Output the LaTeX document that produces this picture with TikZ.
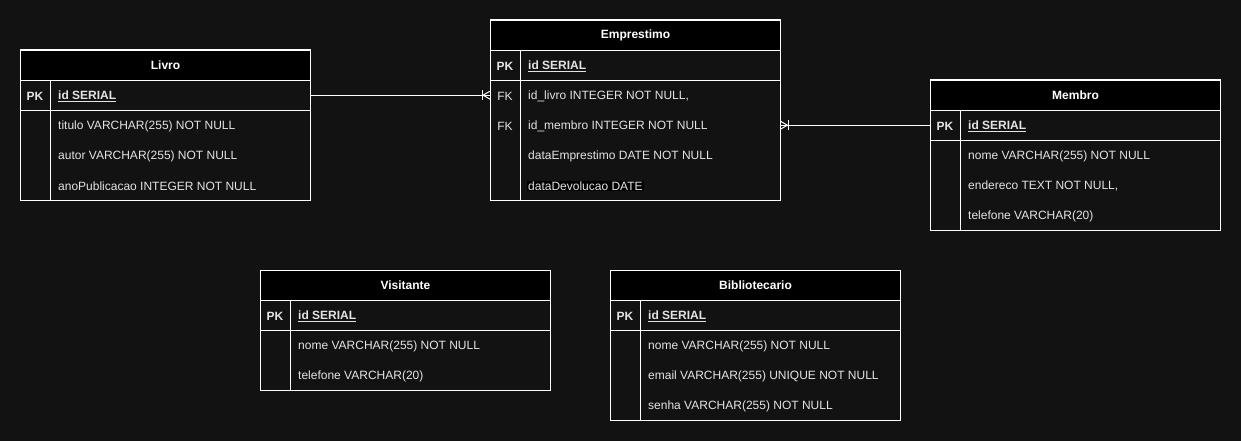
\documentclass[tikz,border=0pt]{standalone}
\usepackage{fontspec}
\setmainfont{Liberation Sans}
\usetikzlibrary{calc}

\definecolor{fundo}{HTML}{121212}
\definecolor{texto}{HTML}{E4E4E4}

% uma tabela: nome, x, y, titulo, numero de campos, campos
\newcommand{\tabela}[6]{%
  \fill[fundo] (#2,#3) rectangle ++(290,60+30*#5);
  \node[cab, anchor=north west] (#1) at (#2,#3) {#4};
  \node[faixa, anchor=north west] (#1-r0) at (#2,#3+30) {};
  \node[chave, font=\bfseries\fontsize{12}{14}\selectfont] (#1-k0) at ($(#1-r0.west)+(15,0)$) {PK};
  \node[campo] (#1-c0) at ($(#1-r0.west)+(38,0)$) {\bfseries\underline{id SERIAL}};
  \foreach \txt [count=\i] in {#6} {
    \node[faixa, anchor=north west] (#1-r\i) at (#2,#3+30+30*\i) {};
    \node[campo] (#1-c\i) at ($(#1-r\i.west)+(38,0)$) {\txt};
  }
  \draw[linha] (#2,#3) rectangle ++(290,60+30*#5);
  \draw[linha] (#1-r0.south west) -- (#1-r0.south east);
  \draw[linha] (#1.south west) ++(30,0) -- ++(0,30+30*#5);
}

\begin{document}
\begin{tikzpicture}[x=1pt,y=-1pt]
\tikzstyle{cab} = [draw=white, line width=1pt, fill=black, minimum width=290pt, minimum height=30pt, inner sep=0, text=white, font=\bfseries\fontsize{12}{14}\selectfont]
\tikzstyle{faixa} = [minimum width=290pt, minimum height=30pt, inner sep=0]
\tikzstyle{campo} = [anchor=west, inner sep=0, yshift=-0.8pt, text=texto, font=\fontsize{12}{14}\selectfont]
\tikzstyle{chave} = [inner sep=0, yshift=-0.8pt, text=texto, font=\fontsize{12}{14}\selectfont]
\tikzstyle{linha} = [draw=white, line width=1pt]
\tikzset{pe/.pic={
  \draw[linha] (-8,-5) -- (-8,5);
  \draw[linha] (0,-4) -- (-7,0) -- (0,4);
}}

% fundo
\fill[fundo] (0,0) rectangle (1241,441);

% Tabelas
\tabela{livro}{20}{50}{Livro}{3}{titulo VARCHAR(255) NOT NULL, autor VARCHAR(255) NOT NULL, anoPublicacao INTEGER NOT NULL}
\tabela{emp}{490}{20}{Emprestimo}{4}{{id\_livro INTEGER NOT NULL,}, id\_membro INTEGER NOT NULL, dataEmprestimo DATE NOT NULL, {\hspace{-1pt}\fboxsep=1pt\colorbox{black}{dataDevolucao DATE}}}
\tabela{membro}{930}{80}{Membro}{3}{nome VARCHAR(255) NOT NULL, {endereco TEXT NOT NULL,}, telefone VARCHAR(20)}
\tabela{visit}{260}{270}{Visitante}{2}{nome VARCHAR(255) NOT NULL, telefone VARCHAR(20)}
\tabela{biblio}{610}{270}{Bibliotecario}{3}{nome VARCHAR(255) NOT NULL, email VARCHAR(255) UNIQUE NOT NULL, senha VARCHAR(255) NOT NULL}

% chaves estrangeiras
\foreach \i in {1,2} {
  \node[chave] (emp-k\i) at ($(emp-r\i.west)+(15,0)$) {FK};
}

% Relacoes
\draw[linha] (livro-r0.east) -- (emp-r1.west) pic {pe};
\draw[linha] (membro-r0.west) -- (emp-r2.east) pic[rotate=180] {pe};

\end{tikzpicture}
\end{document}
